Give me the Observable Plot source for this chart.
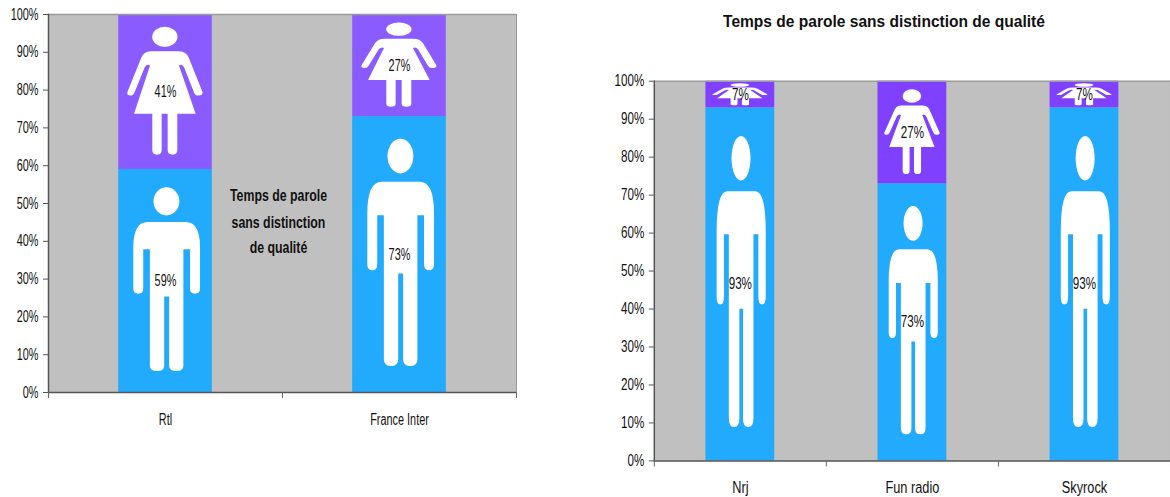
<!DOCTYPE html>
<html>
<head>
<meta charset="utf-8">
<script src="https://cdn.jsdelivr.net/npm/d3@7"></script>
<script src="https://cdn.jsdelivr.net/npm/@observablehq/plot@0.6"></script>
<style>
html,body{margin:0;padding:0;background:#fff;width:1170px;height:497px;overflow:hidden}
#left,#right{position:absolute;top:0}
#left{left:0}
#right{left:590px}
svg{overflow:visible;display:block}
</style>
</head>
<body>
<div id="left"></div>
<div id="right"></div>
<script>
const leftStations = ["Rtl", "France Inter"];
const leftMen = [59, 73];
const leftWomen = [41, 27];
const rightStations = ["Nrj", "Fun radio", "Skyrock"];
const rightMen = [93, 73, 93];
const rightWomen = [7, 27, 7];
const yTicks = [0, 10, 20, 30, 40, 50, 60, 70, 80, 90, 100];
const leftTitleLines = ["Temps de parole", "sans distinction", "de qualité"];
const rightTitle = "Temps de parole sans distinction de qualité";

const manPath = "M31 23.6L71.5 23.6Q86.9 23.6 86.9 35L86.9 53.5Q86.9 55.7 81.5 55.7Q76.2 55.7 76.2 53.5L76.2 35.8L69.1 35.8L69.1 88Q69.1 90.4 61.5 90.4Q53.9 90.4 53.9 88L53.9 56.9L48.6 56.9L48.6 88Q48.6 90.4 41 90.4Q33.3 90.4 33.3 88L33.3 35.8L26.2 35.8L26.2 53.5Q26.2 55.7 21 55.7Q15.6 55.7 15.6 53.5L15.6 35Q15.6 23.6 31 23.6Z";
const manHead = '<ellipse cx="51" cy="14.3" rx="13.8" ry="6.3"/>';
const womanPath = "M34.2 23.7L64.4 23.7Q72 23.7 75 28L89.5 50Q90 52.3 85 52.3Q81.5 52.3 80.4 50.1L69.8 34Q67 31.5 64.4 32.9L82.2 64.1L62.6 64.1L62.6 87.5Q62.6 90.5 57.5 90.5Q52.3 90.5 52.3 87.5L52.3 64.1L45.9 64.1L45.9 87.5Q45.9 90.5 41 90.5Q35.9 90.5 35.9 87.5L35.9 64.1L16.4 64.1L33.5 32.9Q30.5 31.5 27.8 34L17 50.1Q15.5 52.3 12.5 52.3Q8.5 52.3 9.3 50L24 28Q27 23.7 34.2 23.7Z";
const womanHead = '<ellipse cx="49.3" cy="14.4" rx="13.5" ry="6.5"/>';
const icon = (head, path) => "data:image/svg+xml," + encodeURIComponent(
  `<svg xmlns="http://www.w3.org/2000/svg" viewBox="0 0 100 100" width="100" height="100" preserveAspectRatio="none"><g fill="white">${head}<path d="${path}"/></g></svg>`);
const manIcon = icon(manHead, manPath);
const womanIcon = icon(womanHead, womanPath);

const FONT = "'Liberation Sans', Arial, sans-serif";

function chart({stations, men, women, width, height, marginLeft, marginTop, marginBottom, purple, extra, xPad}) {
  const rowsMen = stations.map((s, i) => ({s, v: men[i], y1: 0, y2: men[i]}));
  const rowsWomen = stations.map((s, i) => ({s, v: women[i], y1: men[i], y2: men[i] + women[i]}));
  const plotW = width - marginLeft;
  const plotH = height - marginTop - marginBottom;
  const step = plotW / stations.length;
  const barW = step * 0.4;
  const pic = (rows, src) => Plot.image(rows, {
    x: "s", y: d => (d.y1 + d.y2) / 2, src,
    width: barW, height: d => d.v * plotH / 100, preserveAspectRatio: "none"
  });
  const lab = rows => Plot.text(rows, {
    x: "s", y: d => (d.y1 + d.y2) / 2, text: d => d.v + "%",
    fontSize: 16, fill: "#111"
  });
  return Plot.plot({
    width, height, marginLeft, marginTop, marginBottom, marginRight: 0,
    style: {background: "transparent", fontFamily: FONT, fontSize: "16px", overflow: "visible"},
    x: {domain: stations, paddingInner: 0.6, paddingOuter: 0.3, round: false, label: null},
    y: {domain: [0, 100], label: null},
    marks: [
      Plot.frame({fill: "#c0c0c0"}),
      Plot.barY(rowsMen, {x: "s", y1: "y1", y2: "y2", fill: "#22aafc"}),
      Plot.barY(rowsWomen, {x: "s", y1: "y1", y2: "y2", fill: purple}),
      pic(rowsMen, manIcon),
      pic(rowsWomen, womanIcon),
      lab(rowsMen),
      lab(rowsWomen),
      Plot.ruleY([100], {stroke: "#9a9a9a", strokeWidth: 1.5}),
      Plot.frame({anchor: "right", stroke: "#9a9a9a", strokeWidth: 1}),
      Plot.frame({anchor: "left", stroke: "#555", strokeWidth: 1.5}),
      Plot.ruleY([0], {stroke: "#555", strokeWidth: 1.5}),
      Plot.axisY({ticks: yTicks, tickFormat: d => d + "%", tickSize: 5, tickPadding: 5, stroke: "#555", label: null, fill: "#111"}),
      Plot.axisX({tickSize: 0, tickPadding: xPad, label: null, fill: "#111"}),
      Plot.axisX({text: null, tickSize: 6, dx: step / 2, label: null, stroke: "#666"}),
      Plot.axisX({ticks: stations.slice(0, 1), text: null, tickSize: 6, dx: -step / 2, label: null, stroke: "#666"}),
      ...extra
    ]
  });
}

function squeeze(svg, ratio, boldRatio, catRatio, cats) {
  svg.querySelectorAll("text").forEach(t => {
    const g = t.closest("[font-weight]");
    const bold = g && g.getAttribute("font-weight") === "bold";
    const len = t.getComputedTextLength();
    if (!len) return;
    const isWide = t.textContent.length > 30;
    const r = cats.includes(t.textContent) ? catRatio : bold ? boldRatio : ratio;
    const w = isWide ? 323 : len * r;
    t.setAttribute("textLength", w);
    t.setAttribute("lengthAdjust", "spacingAndGlyphs");
  });
}

const leftDy = [-7.5, 19, 44];
const leftSvg = chart({
  stations: leftStations, men: leftMen, women: leftWomen, xPad: 21,
  width: 516, height: 497, marginLeft: 48, marginTop: 14, marginBottom: 105, purple: "#8a5cff",
  extra: leftTitleLines.map((t, i) => Plot.text([t], {
    text: d => d, frameAnchor: "middle", dx: -4, dy: leftDy[i],
    fontSize: 16, fontWeight: "bold", fill: "#111"
  }))
});
document.getElementById("left").append(leftSvg);

const rightSvg = chart({
  stations: rightStations, men: rightMen, women: rightWomen, xPad: 21,
  width: 582, height: 497, marginLeft: 64, marginTop: 81, marginBottom: 35, purple: "#8040ff",
  extra: [Plot.text([rightTitle], {
    text: d => d, frameAnchor: "top", dx: -28.5, dy: -66,
    fontSize: 17, fontWeight: "bold", fill: "#111"
  })]
});
document.getElementById("right").append(rightSvg);

squeeze(leftSvg, 0.68, 0.77, 0.68, leftStations);
squeeze(rightSvg, 0.73, 0.77, 0.8, rightStations);
</script>
</body>
</html>
